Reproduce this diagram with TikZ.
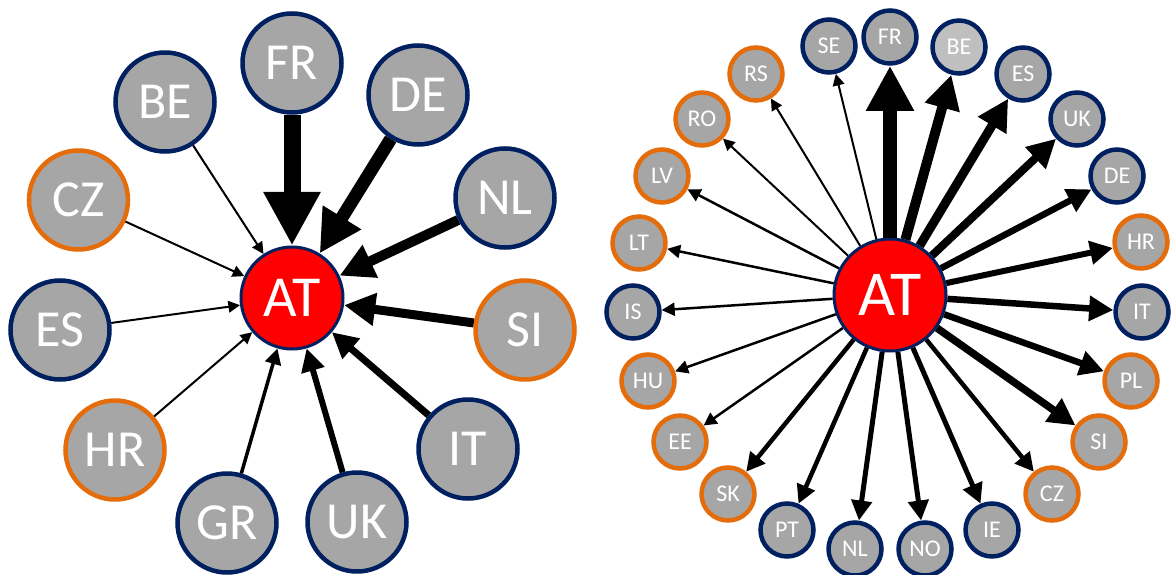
\documentclass[tikz,border=0pt]{standalone}
\usepackage{fontspec}
\setmainfont{Carlito}
\usetikzlibrary{arrows.meta}
\definecolor{navy}{HTML}{002060}
\definecolor{orng}{HTML}{E46C0A}
\definecolor{gfill}{HTML}{A6A6A6}
\definecolor{lgfill}{HTML}{BFBFBF}
\begin{document}
\begin{tikzpicture}[x=1pt,y=-1pt,
 big/.style={circle, fill=gfill, line width=4.5pt, minimum size=99pt, inner sep=0pt, text=white, font=\fontsize{52}{52}\selectfont},
 small/.style={circle, fill=gfill, line width=4.5pt, minimum size=53pt, inner sep=0pt, text=white, font=\fontsize{24}{24}\selectfont},
 hub/.style={circle, fill=red, draw=navy, line width=3pt, inner sep=0pt, text=white},
 nb/.style={draw=navy}, ob/.style={draw=orng},
 arr/.style={-{Triangle[length=6pt 2.8, width=6pt 2.8]}},
]
\useasboundingbox (0,0) rectangle (1172,575);
% ---------- left diagram ----------
\node[hub, minimum size=102pt, font=\fontsize{58}{58}\selectfont] (lAT) at (292,298) {AT};
\node[big,nb] (lFR) at (292,63) {FR};
\node[big,nb] (lBE) at (165,102) {BE};
\node[big,nb] (lDE) at (418,95) {DE};
\node[big,ob] (lCZ) at (78.5,200) {CZ};
\node[big,nb] (lNL) at (505,198) {NL};
\node[big,nb] (lES) at (60,330) {ES};
\node[big,ob] (lSI) at (525,330) {SI};
\node[big,ob] (lHR) at (115,450) {HR};
\node[big,nb] (lIT) at (468,449) {IT};
\node[big,nb] (lGR) at (227,523) {GR};
\node[big,nb] (lUK) at (357,522) {UK};
\draw[arr, line width=17pt] (lFR) -- (lAT);
\draw[arr, line width=13pt] (lDE) -- (lAT);
\draw[arr, line width=10pt] (lNL) -- (lAT);
\draw[arr, line width=9pt] (lSI) -- (lAT);
\draw[arr, line width=7pt] (lIT) -- (lAT);
\draw[arr, line width=6pt] (lUK) -- (lAT);
\draw[arr, line width=3.5pt] (lGR) -- (lAT);
\draw[arr, line width=2pt] (lHR) -- (lAT);
\draw[arr, line width=2pt] (lES) -- (lAT);
\draw[arr, line width=2pt] (lCZ) -- (lAT);
\draw[arr, line width=2pt] (lBE) -- (lAT);
% ---------- right diagram ----------
\node[hub, minimum size=112pt, font=\fontsize{64}{64}\selectfont] (rAT) at (890,295) {AT};
\node[small,nb] (rFR) at (890,37) {FR};
\node[small,nb] (rSE) at (829,46) {SE};
\node[small,nb,fill=lgfill] (rBE) at (959,47) {BE};
\node[small,ob] (rRS) at (756,74) {RS};
\node[small,nb] (rES) at (1023,74) {ES};
\node[small,ob] (rRO) at (702,119) {RO};
\node[small,nb] (rUK) at (1077,119) {UK};
\node[small,ob] (rLV) at (662,176) {LV};
\node[small,nb] (rDE) at (1117,176) {DE};
\node[small,ob] (rLT) at (639,243) {LT};
\node[small,ob] (rHR) at (1141,242) {HR};
\node[small,nb] (rIS) at (633,312) {IS};
\node[small,nb] (rIT) at (1142,312) {IT};
\node[small,ob] (rHU) at (648,381) {HU};
\node[small,ob] (rPL) at (1131,381) {PL};
\node[small,ob] (rEE) at (680,442) {EE};
\node[small,ob] (rSI) at (1099,442) {SI};
\node[small,ob] (rSK) at (728,494) {SK};
\node[small,ob] (rCZ) at (1052,494) {CZ};
\node[small,nb] (rPT) at (787,530) {PT};
\node[small,nb] (rIE) at (992,530) {IE};
\node[small,nb] (rNL) at (855,549) {NL};
\node[small,nb] (rNO) at (925,549) {NO};
\draw[arr, line width=14pt] (rAT) -- (rFR);
\draw[arr, line width=10pt] (rAT) -- (rBE);
\draw[arr, line width=9pt] (rAT) -- (rES);
\draw[arr, line width=8pt] (rAT) -- (rUK);
\draw[arr, line width=6.5pt] (rAT) -- (rDE);
\draw[arr, line width=6pt] (rAT) -- (rHR);
\draw[arr, line width=6.5pt] (rAT) -- (rIT);
\draw[arr, line width=6.5pt] (rAT) -- (rPL);
\draw[arr, line width=7.5pt] (rAT) -- (rSI);
\draw[arr, line width=4.5pt] (rAT) -- (rCZ);
\draw[arr, line width=5pt] (rAT) -- (rIE);
\draw[arr, line width=5pt] (rAT) -- (rNO);
\draw[arr, line width=5pt] (rAT) -- (rNL);
\draw[arr, line width=4.5pt] (rAT) -- (rPT);
\draw[arr, line width=4.5pt] (rAT) -- (rSK);
\draw[arr, line width=2.5pt] (rAT) -- (rEE);
\draw[arr, line width=2.5pt] (rAT) -- (rHU);
\draw[arr, line width=2.5pt] (rAT) -- (rIS);
\draw[arr, line width=2.5pt] (rAT) -- (rLT);
\draw[arr, line width=2.5pt] (rAT) -- (rLV);
\draw[arr, line width=2pt] (rAT) -- (rRO);
\draw[arr, line width=2pt] (rAT) -- (rRS);
\draw[arr, line width=2pt] (rAT) -- (rSE);
\end{tikzpicture}
\end{document}
